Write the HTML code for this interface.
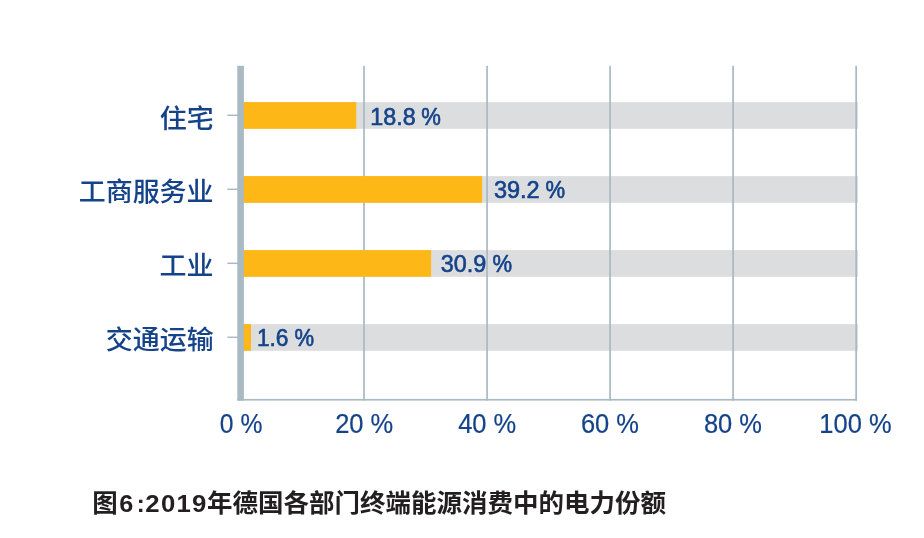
<!DOCTYPE html>
<html lang="zh-CN">
<head>
<meta charset="utf-8">
<title>图6:2019年德国各部门终端能源消费中的电力份额</title>
<style>
html,body{margin:0;padding:0;background:#fff;}
body{width:924px;height:538px;overflow:hidden;position:relative;}
svg{display:block;position:absolute;left:0;top:0;}
text{font-family:"Liberation Sans","Noto Sans CJK SC",sans-serif;}
.cat{font-weight:500;font-size:27px;fill:#14438a;}
.val{font-size:23.2px;fill:#14438a;stroke:#14438a;stroke-width:0.62px;stroke-linejoin:round;}
.ax{font-size:26.8px;fill:#14438a;stroke:#14438a;stroke-width:0.22px;}
.ttl{font-weight:700;font-size:25.5px;fill:#231f20;}
.ttl .d{font-size:23.8px;}
</style>
</head>
<body>
<svg width="924" height="538" viewBox="0 0 924 538">
<rect x="0" y="0" width="924" height="538" fill="#ffffff"/>
<!-- grey background bars -->
<g fill="#dcddde">
<rect x="241" y="102.1" width="617" height="26.7"/>
<rect x="241" y="176.1" width="617" height="26.7"/>
<rect x="241" y="250.1" width="617" height="26.7"/>
<rect x="241" y="324.1" width="617" height="26.7"/>
</g>
<!-- value labels -->
<g class="val">
<text x="370.3" y="124.6" textLength="45.4" lengthAdjust="spacingAndGlyphs">18.8</text><text x="421.3" y="124.6" textLength="19.6" lengthAdjust="spacingAndGlyphs">%</text>
<text x="493.9" y="198.4" textLength="45.8" lengthAdjust="spacingAndGlyphs">39.2</text><text x="545.5" y="198.4" textLength="19.6" lengthAdjust="spacingAndGlyphs">%</text>
<text x="440.8" y="272.4" textLength="45.6" lengthAdjust="spacingAndGlyphs">30.9</text><text x="492.5" y="272.4" textLength="19.6" lengthAdjust="spacingAndGlyphs">%</text>
<text x="256.9" y="346.4" textLength="31.6" lengthAdjust="spacingAndGlyphs">1.6</text><text x="294.4" y="346.4" textLength="19.6" lengthAdjust="spacingAndGlyphs">%</text>
</g>
<!-- gridlines -->
<g fill="#a9bac3">
<rect x="363.15" y="65.8" width="1.7" height="334.8"/>
<rect x="486.2" y="65.8" width="1.7" height="334.8"/>
<rect x="609.2" y="65.8" width="1.7" height="334.8"/>
<rect x="732.2" y="65.8" width="1.7" height="334.8"/>
<rect x="855.3" y="65.8" width="1.7" height="334.8"/>
<rect x="237.3" y="398.9" width="619.7" height="1.7"/>
</g>
<!-- yellow value bars -->
<g fill="#fdb716">
<rect x="241" y="102.1" width="115.3" height="26.7"/>
<rect x="241" y="176.1" width="241.1" height="26.7"/>
<rect x="241" y="250.1" width="190.1" height="26.7"/>
<rect x="241" y="324.1" width="10" height="26.7"/>
</g>
<!-- y axis and ticks -->
<g fill="#a9bac3">
<rect x="237.3" y="65.8" width="6.6" height="334.8"/>
<rect x="227.4" y="114.55" width="10.5" height="1.5"/>
<rect x="227.4" y="188.55" width="10.5" height="1.5"/>
<rect x="227.4" y="262.55" width="10.5" height="1.5"/>
<rect x="227.4" y="336.55" width="10.5" height="1.5"/>
</g>
<!-- category labels -->
<g class="cat" text-anchor="end">
<text transform="translate(213.7,127.8) scale(1,0.975)">住宅</text>
<text transform="translate(213.6,201.0) scale(1,0.975)">工商服务业</text>
<text transform="translate(213.4,275.2) scale(1,0.975)">工业</text>
<text transform="translate(213.8,348.6) scale(1,0.975)">交通运输</text>
</g>
<!-- x axis labels -->
<g class="ax" text-anchor="middle">
<text x="241.1" y="432.9" textLength="42.6" lengthAdjust="spacingAndGlyphs">0 %</text>
<text x="364.2" y="432.9" textLength="58.1" lengthAdjust="spacingAndGlyphs">20 %</text>
<text x="487.2" y="432.9" textLength="58.1" lengthAdjust="spacingAndGlyphs">40 %</text>
<text x="610" y="432.9" textLength="58.1" lengthAdjust="spacingAndGlyphs">60 %</text>
<text x="733" y="432.9" textLength="58.1" lengthAdjust="spacingAndGlyphs">80 %</text>
<text x="855.5" y="432.9" textLength="72.3" lengthAdjust="spacingAndGlyphs">100 %</text>
</g>
<!-- caption -->
<g class="ttl">
<text x="92.3" y="511.9">图</text>
<text class="d" transform="translate(119.2,512.4) scale(1.06,1)">6</text>
<text class="d" x="136.8" y="511.5">:</text>
<text class="d" transform="translate(145.3,512.4) scale(1.08,1)" letter-spacing="1.2">2019</text>
<text x="207.1" y="511.9" textLength="459" lengthAdjust="spacing">年德国各部门终端能源消费中的电力份额</text>
</g>
</svg>
</body>
</html>
